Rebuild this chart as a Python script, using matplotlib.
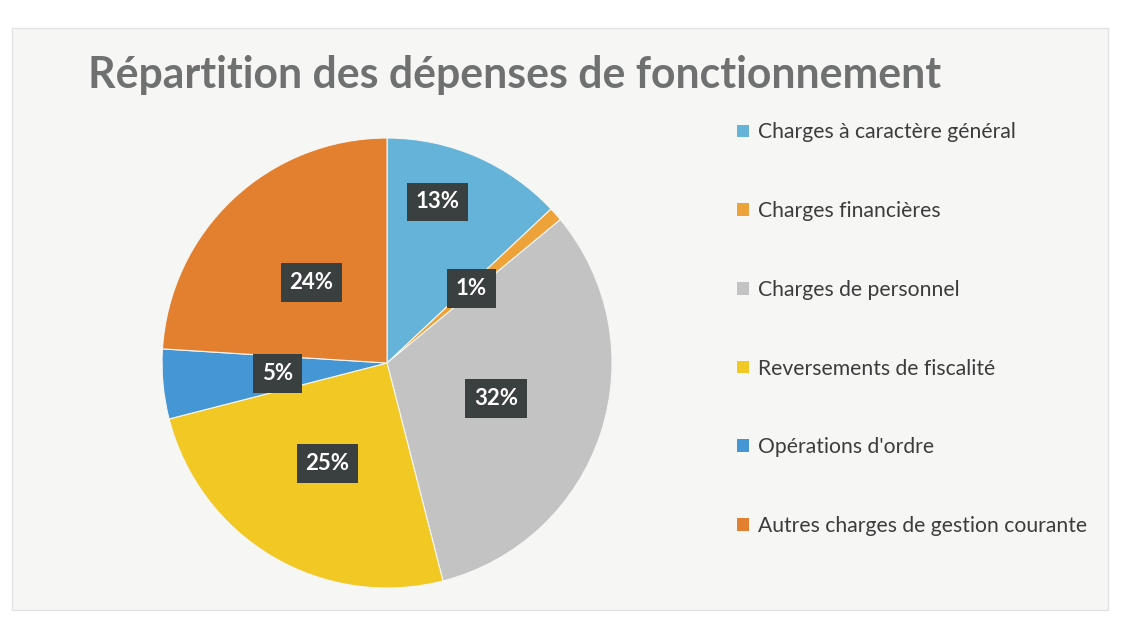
import numpy as np
import matplotlib
matplotlib.use("Agg")
import matplotlib.pyplot as plt
from matplotlib.patches import Rectangle, Patch

categories = ["Charges à caractère général", "Charges financières", "Charges de personnel",
              "Reversements de fiscalité", "Opérations d'ordre", "Autres charges de gestion courante"]
values = [13, 1, 32, 25, 5, 24]
colors = ["#66b3da", "#eda33a", "#c3c3c3", "#f1c824", "#4596d4", "#e2802f"]
title = "Répartition des dépenses de fonctionnement"

plt.rcParams['font.family'] = ['Lato', 'DejaVu Sans']

fig = plt.figure(figsize=(11.37, 6.2), dpi=100, facecolor="white")
# scanned panel background
fig.patches.append(Rectangle((12/1137, 1-610/620), (1108-12)/1137, (610-28)/620,
                             transform=fig.transFigure, facecolor="#f6f6f4",
                             edgecolor="#e2e2e2", lw=1, zorder=-5))

fig.text(88/1137, 1-75/620, title, fontsize=30.8, fontweight="bold", color="#6f7070",
         ha="left", va="center")

ax = fig.add_axes([0.1425, 0.0516, 0.3958, 0.7258])
ax.set_zorder(2)
wedges, _ = ax.pie(values, colors=colors, startangle=90, counterclock=False, radius=1,
                   wedgeprops=dict(linewidth=0.8, edgecolor="#f6f6f4"))
ax.set_xlim(-1, 1)
ax.set_ylim(-1, 1)
ax.axis("off")

total = sum(values)
cum = 0
dist = [0.75, 0.50, 0.51, 0.52, 0.49, 0.49]
shift = [6, 0, 0, 0, 0, 0]
for v, d, s in zip(values, dist, shift):
    mid = 90 - (cum + v / 2) / total * 360 + s
    cum += v
    x, y = d * np.cos(np.radians(mid)), d * np.sin(np.radians(mid))
    ax.text(x, y, f"{round(v / total * 100)}%", ha="center", va="center", fontsize=16,
            fontweight="bold", color="white",
            bbox=dict(boxstyle="square,pad=0.4", facecolor="#3a3f3f", edgecolor="none"))

handles = [Patch(facecolor=c, edgecolor="none") for c in colors]
fig.legend(handles, categories, loc="upper left", bbox_to_anchor=(729/1137, 1-114/620),
           frameon=False, fontsize=15.2, labelcolor="#3c3c3c", labelspacing=2.78,
           handlelength=0.55, handleheight=0.55, handletextpad=0.4, borderaxespad=0)

fig.savefig("out.png", dpi=100, facecolor="white")
